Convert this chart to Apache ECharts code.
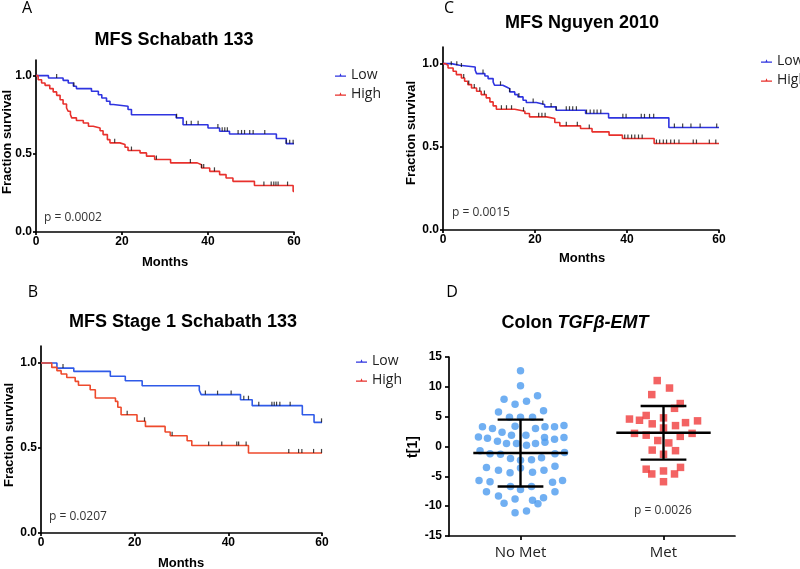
<!DOCTYPE html>
<html><head><meta charset="utf-8">
<script src="https://cdn.jsdelivr.net/npm/echarts@6/dist/echarts.min.js"></script>
<style>html,body{margin:0;padding:0;background:#fff}#c{width:800px;height:569px}</style>
</head><body><div id="c"></div>
<script>
// ---------- DATA ----------
const kmXTicks = [0, 20, 40, 60];
const kmYTicks = [0, 0.5, 1.0];
const groupNames = ['Low', 'High'];

// Panel A: MFS Schabath 133  [months, fraction surviving]
const lowA = [[0,1],[2.9,0.985],[6.3,0.97],[7.5,0.953],[8.7,0.932],[9.4,0.917],[12.9,0.9],[14.5,0.878],[15.3,0.857],[16.4,0.836],[17.2,0.815],[18,0.804],[21.4,0.783],[22.2,0.75],[32.6,0.73],[34.2,0.686],[40,0.665],[42.7,0.644],[45,0.627],[55.9,0.598],[58.2,0.565],[60,0.565]];
const highA = [[0,1],[0.5,0.974],[1.3,0.953],[2.1,0.938],[3.2,0.917],[4.0,0.896],[4.8,0.874],[5.6,0.846],[6.3,0.819],[7.1,0.793],[7.5,0.772],[8.0,0.751],[8.3,0.73],[9.4,0.713],[11.0,0.697],[12.2,0.676],[13.3,0.665],[14.9,0.648],[15.6,0.623],[16.6,0.591],[17.2,0.57],[19.5,0.559],[20.7,0.542],[21.4,0.521],[24.2,0.506],[25.7,0.485],[27.6,0.464],[31.3,0.442],[37.5,0.43],[38.5,0.409],[40.4,0.388],[42.7,0.367],[44.2,0.345],[45.8,0.324],[50.8,0.297],[59.8,0.26],[60,0.26]];
const censorLowA = [4.8, 8.8, 32.7, 35, 36.1, 37.7, 42.3, 43.3, 43.9, 44.5, 47, 47.8, 48.5, 49.7, 50.5, 53.2, 58.2, 59, 59.8];
const censorHighA = [18.3, 22.2, 28, 35.9, 38.5, 39, 41.5, 53, 54.7, 55.3, 55.8, 56.3, 58.5];

// Panel C: MFS Nguyen 2010
const lowC = [[0,1],[1.8,0.99],[3.6,0.98],[7.0,0.96],[7.3,0.94],[9.1,0.926],[9.8,0.91],[10.9,0.89],[11.2,0.87],[13.0,0.86],[13.8,0.85],[14.5,0.83],[15.6,0.814],[16.3,0.8],[17.4,0.78],[18.1,0.766],[20.3,0.754],[22.1,0.74],[24.6,0.72],[31.0,0.7],[36.0,0.674],[49.1,0.616],[60,0.616]];
const highC = [[0,1],[0.5,0.99],[1.1,0.974],[2.2,0.954],[2.9,0.934],[4.0,0.914],[4.7,0.894],[5.4,0.874],[6.2,0.854],[7.3,0.834],[8.3,0.814],[9.4,0.794],[10.2,0.77],[10.9,0.746],[11.6,0.726],[15.6,0.714],[17.8,0.7],[18.8,0.68],[22.5,0.67],[24.3,0.646],[25.4,0.626],[29.9,0.61],[32.4,0.59],[36.1,0.57],[39.0,0.55],[45.9,0.52],[60,0.52]];
const censorLowC = [1.8, 3.0, 4.0, 8.7, 12.5, 14.5, 16.5, 19.6, 21.7, 23.5, 24.6, 26.8, 27.5, 28.2, 29.0, 31.2, 32.0, 32.8, 33.5, 34.3, 39.1, 39.8, 43.1, 43.8, 44.9, 45.8, 50.3, 52.1, 53.9, 55.9, 59.5];
const censorHighC = [4.5, 5.6, 6.8, 8.0, 9.0, 12.7, 13.8, 14.9, 17.5, 20.8, 21.5, 22.2, 26.8, 29.2, 31.8, 39.5, 40.2, 41.0, 41.7, 42.5, 43.3, 46.4, 47.1, 47.9, 48.6, 49.5, 50.3, 51.3, 54.4, 55.1, 57.9, 59.3];

// Panel B: MFS Stage 1 Schabath 133
const lowB = [[0,1],[3.4,0.97],[7.0,0.951],[14.8,0.922],[18.0,0.896],[21.6,0.866],[33.8,0.84],[34.2,0.814],[42.6,0.784],[45.1,0.749],[55.8,0.696],[58.3,0.651],[60,0.651]];
const highB = [[0,1],[2.3,0.974],[3.4,0.955],[4.3,0.935],[5.5,0.915],[7.3,0.892],[8.0,0.869],[10.5,0.843],[11.6,0.794],[15.9,0.774],[16.4,0.74],[17.1,0.696],[20.5,0.657],[22.3,0.627],[26.5,0.594],[27.6,0.572],[31.2,0.543],[32.2,0.515],[44.3,0.471],[60,0.471]];
const censorLowB = [4.7, 35.1, 37.7, 40.6, 43.3, 44.3, 46.5, 49.3, 49.8, 50.3, 51.0, 53.2, 59.9];
const censorHighB = [18.4, 22.1, 28.0, 35.8, 38.6, 41.8, 42.2, 43.8, 52.9, 55.0, 55.7, 58.2, 59.9];

// Panel D: Colon TGFβ-EMT
const dCategories = ['No Met', 'Met'];
const noMetValues = [12.7,10.2,7.9,8.5,7.1,7.6,5.8,6.0,4.9,4.9,4.9,3.3,3.0,3.4,3.0,3.3,3.3,3.5,2.4,1.9,1.9,1.6,1.4,1.5,1.2,1.5,0.9,0.5,0.5,0.2,0.5,0.7,-0.7,-1.2,-1.3,-1.2,-1.0,-2.0,-2.3,-2.2,-1.9,-3.5,-3.3,-4.0,-4.4,-3.6,-4.3,-4.0,-5.7,-5.9,-6.0,-5.7,-6.7,-7.2,-6.7,-7.6,-7.6,-8.3,-8.8,-8.6,-9.5,-9.0,-9.6,-11.1,-10.8];
// horizontal scatter (swarm) offset of each dot, in category widths
const noMetSpread = [0,0,-0.115,0.119,-0.038,0.042,-0.154,0.161,-0.077,0,0.084,-0.266,-0.196,-0.038,0.105,0.171,0.238,0.304,-0.129,-0.063,0.038,-0.294,-0.231,0.168,0.238,0.304,-0.161,-0.098,-0.028,0.042,0.105,0.171,-0.283,-0.213,-0.14,0.241,0.308,-0.07,0,0.077,0.147,-0.238,0.241,-0.154,-0.073,0,0.084,0.164,-0.29,-0.213,0.224,0.294,-0.07,0,0.077,-0.238,0.241,-0.154,-0.038,0.161,-0.115,0.084,0.122,-0.038,0.042];
const metValues = [11.05,9.8,8.7,7.2,6.4,4.6,5.2,4.4,3.8,4.8,3.5,4.0,4.3,2.2,1.9,3.1,1.7,2.2,1.0,0.6,-0.6,-0.7,-1.3,-3.8,-3.5,-4.6,-4.1,-4.6,-5.9];
const metSpread = [-0.044,0.042,-0.082,0.117,0.077,-0.238,-0.121,-0.168,-0.079,0,0.084,0.154,0.238,-0.203,-0.121,0,0.117,0.2,-0.04,0.037,-0.079,0.084,0,-0.121,0.119,-0.082,0,0.077,0];
const dMeans = [-1.1, 2.3];
const dSDs = [5.6, 4.5];

// ---------- HELPERS ----------
function survAt(curve, t) {
  let v = curve[0][1];
  for (const p of curve) { if (p[0] <= t) v = p[1]; else break; }
  return v;
}
const FB = 'Liberation Sans, Arial, sans-serif';
const FR = 'Open Sans, Liberation Sans, sans-serif';
const BLUE = '#2f34e0', RED = '#e8302c', BLUE_B = '#2f5ae8', RED_B = '#ee4a2c';

function kmX(gi) {
  return { gridIndex: gi, type: 'value', min: 0, max: 60, interval: 20,
    axisLine: { show: true, onZero: false, lineStyle: { color: '#000', width: 1.7 } },
    axisTick: { show: true, length: 3, customValues: kmXTicks, lineStyle: { color: '#000', width: 1.7 } },
    axisLabel: { customValues: kmXTicks, color: '#000', fontWeight: 'bold', fontSize: 12, fontFamily: FB, margin: 4 },
    splitLine: { show: false } };
}
function kmY(gi) {
  return { gridIndex: gi, type: 'value', min: 0, max: 1.1,
    axisLine: { show: true, onZero: false, lineStyle: { color: '#000', width: 1.7 } },
    axisTick: { show: true, length: 3, customValues: kmYTicks, lineStyle: { color: '#000', width: 1.7 } },
    axisLabel: { customValues: kmYTicks, formatter: v => v.toFixed(1), color: '#000', fontWeight: 'bold', fontSize: 12, fontFamily: FB, margin: 4 },
    splitLine: { show: false } };
}
function kmLine(name, data, gi, color) {
  return { name, type: 'line', step: 'end', data, xAxisIndex: gi, yAxisIndex: gi,
    showSymbol: false, symbol: 'none', lineStyle: { color, width: 1.6 }, itemStyle: { color }, z: 2 };
}
function censor(id, times, curve, gi) {
  return { name: id, type: 'scatter', xAxisIndex: gi, yAxisIndex: gi,
    data: times.map(t => [t, survAt(curve, t)]), symbol: 'rect', symbolSize: [1.2, 4], symbolOffset: [0, -2],
    itemStyle: { color: '#111' }, z: 3, silent: true };
}
const legendIcon = 'path://M0,5h12v1.4h-12z M5,5L6,2.6L7,5z';
function legend(left, top) {
  return { data: groupNames, left, top, orient: 'vertical', itemGap: 5, itemWidth: 11, itemHeight: 5,
    icon: legendIcon, selectedMode: false,
    textStyle: { fontFamily: FR, fontSize: 14, color: '#222', lineHeight: 14 } };
}
function txt(text, x, y, opt) {
  opt = opt || {};
  return { type: 'text', x, y, rotation: opt.rot || 0, silent: true,
    style: { text, fill: opt.color || '#000', font: (opt.weight || 'normal') + ' ' + (opt.size || 12) + 'px ' + (opt.family || FB),
      textAlign: opt.align || 'center', textVerticalAlign: 'middle' } };
}

// ---------- OPTION ----------
const noMetPts = noMetValues.map((v, i) => [0.5 + noMetSpread[i], v]);
const metPts = metValues.map((v, i) => [1.5 + metSpread[i], v]);
const barData = dMeans.map((m, i) => [0.5 + i, m, dSDs[i]]);

const option = {
  animation: false,
  backgroundColor: '#fff',
  grid: [
    { left: 36, top: 60, width: 258, height: 172 },   // A
    { left: 443, top: 47, width: 276, height: 183 },  // C
    { left: 41, top: 346, width: 281, height: 187 },  // B
    { left: 449, top: 357, width: 286, height: 179 }  // D
  ],
  xAxis: [kmX(0), kmX(1), kmX(2),
    { gridIndex: 3, type: 'value', min: 0, max: 2,
      axisLine: { show: true, onZero: false, lineStyle: { color: '#000', width: 1.7 } },
      axisTick: { show: true, length: 4, customValues: [0.5, 1.5], lineStyle: { color: '#000', width: 1.7 } },
      axisLabel: { customValues: [0.5, 1.5], formatter: v => dCategories[Math.round(v - 0.5)], color: '#222', fontSize: 15, fontFamily: FR, margin: 9 },
      splitLine: { show: false } }],
  yAxis: [kmY(0), kmY(1), kmY(2),
    { gridIndex: 3, type: 'value', min: -15, max: 15, interval: 5,
      axisLine: { show: true, onZero: false, lineStyle: { color: '#000', width: 1.7 } },
      axisTick: { show: true, length: 4, lineStyle: { color: '#000', width: 1.7 } },
      axisLabel: { color: '#000', fontWeight: 'bold', fontSize: 12, fontFamily: FB, margin: 7 },
      splitLine: { show: false } }],
  legend: [legend(330, 63), legend(756, 49), legend(351, 349)],
  series: [
    kmLine('Low', lowA, 0, BLUE), kmLine('High', highA, 0, RED),
    censor('cLA', censorLowA, lowA, 0), censor('cHA', censorHighA, highA, 0),
    kmLine('Low', lowC, 1, BLUE), kmLine('High', highC, 1, RED),
    censor('cLC', censorLowC, lowC, 1), censor('cHC', censorHighC, highC, 1),
    kmLine('Low', lowB, 2, BLUE_B), kmLine('High', highB, 2, RED_B),
    censor('cLB', censorLowB, lowB, 2), censor('cHB', censorHighB, highB, 2),
    { name: 'No Met', type: 'scatter', xAxisIndex: 3, yAxisIndex: 3, data: noMetPts, symbol: 'circle', symbolSize: 7.5,
      itemStyle: { color: '#4c9bef' }, z: 2 },
    { name: 'Met', type: 'scatter', xAxisIndex: 3, yAxisIndex: 3, data: metPts, symbol: 'rect', symbolSize: 7.5,
      itemStyle: { color: '#f03c3c' }, z: 2 },
    { name: 'meanSD', type: 'custom', xAxisIndex: 3, yAxisIndex: 3, data: barData, z: 5, silent: true,
      renderItem: function (params, api) {
        const x = api.value(0), m = api.value(1), s = api.value(2);
        const c = api.coord([x, m]), up = api.coord([x, m + s]), lo = api.coord([x, m - s]);
        const hm = api.size([0.33, 0])[0], hc = api.size([0.16, 0])[0];
        const st = { stroke: '#000', lineWidth: 2.4 };
        return { type: 'group', children: [
          { type: 'line', shape: { x1: c[0] - hm, y1: c[1], x2: c[0] + hm, y2: c[1] }, style: st },
          { type: 'line', shape: { x1: c[0], y1: up[1], x2: c[0], y2: lo[1] }, style: st },
          { type: 'line', shape: { x1: c[0] - hc, y1: up[1], x2: c[0] + hc, y2: up[1] }, style: st },
          { type: 'line', shape: { x1: c[0] - hc, y1: lo[1], x2: c[0] + hc, y2: lo[1] }, style: st }
        ] };
      } }
  ],
  graphic: [
    txt('A', 27, 8, { size: 16, family: FR }),
    txt('C', 449, 8, { size: 16, family: FR }),
    txt('B', 33, 292, { size: 16, family: FR }),
    txt('D', 452, 292, { size: 16, family: FR }),
    txt('MFS Schabath 133', 174, 40, { size: 18, weight: 'bold' }),
    txt('MFS Nguyen 2010', 582, 23, { size: 18, weight: 'bold' }),
    txt('MFS Stage 1 Schabath 133', 183, 322, { size: 18, weight: 'bold' }),
    { type: 'text', x: 575, y: 323, silent: true,
      style: { text: '{b|Colon }{i|TGFβ-EMT}', textAlign: 'center', textVerticalAlign: 'middle',
        rich: { b: { font: 'bold 18px ' + FB, fill: '#000' }, i: { font: 'italic bold 18px ' + FB, fill: '#000' } } } },
    txt('Fraction survival', 7, 142, { size: 13, weight: 'bold', rot: Math.PI / 2 }),
    txt('Fraction survival', 411, 133, { size: 13, weight: 'bold', rot: Math.PI / 2 }),
    txt('Fraction survival', 9, 435, { size: 13, weight: 'bold', rot: Math.PI / 2 }),
    txt('t[1]', 413, 447, { size: 14, weight: 'bold', rot: Math.PI / 2 }),
    txt('Months', 165, 262, { size: 13, weight: 'bold' }),
    txt('Months', 582, 258, { size: 13, weight: 'bold' }),
    txt('Months', 181, 563, { size: 13, weight: 'bold' }),
    txt('p = 0.0002', 44, 218, { size: 12, family: FR, align: 'left', color: '#333' }),
    txt('p = 0.0015', 452, 213, { size: 12, family: FR, align: 'left', color: '#333' }),
    txt('p = 0.0207', 49, 517, { size: 12, family: FR, align: 'left', color: '#333' }),
    txt('p = 0.0026', 663, 511, { size: 12, family: FR, color: '#333' })
  ]
};
const chart = echarts.init(document.getElementById('c'), null, { renderer: 'canvas' });
chart.setOption(option);
</script></body></html>
